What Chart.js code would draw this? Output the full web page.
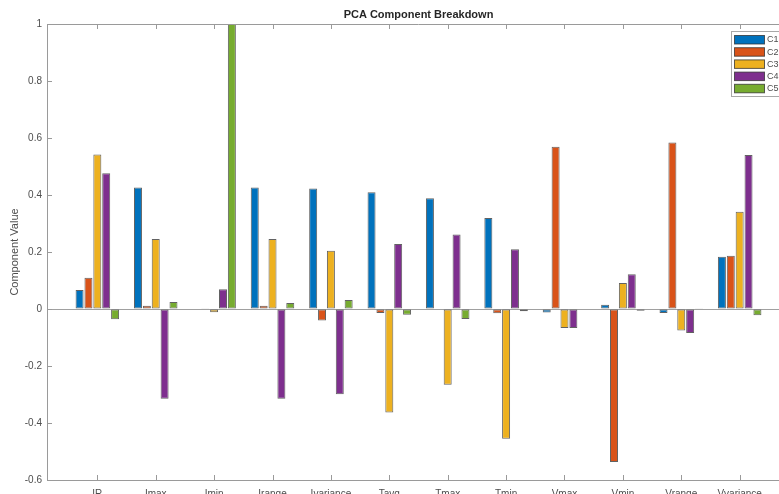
<!DOCTYPE html>
<html>
<head>
<meta charset="utf-8">
<script src="https://cdn.jsdelivr.net/npm/chart.js@4"></script>
<style>
  html, body { margin: 0; padding: 0; background: #fff; overflow: hidden; }
  #wrap { position: absolute; left: 0; top: 0; }
</style>
</head>
<body>
<div id="wrap"><canvas id="pca" width="800" height="510"></canvas></div>
<script>
// categories and component loadings
const categories = ['IR', 'Imax', 'Imin', 'Irange', 'Ivariance', 'Tavg', 'Tmax', 'Tmin', 'Vmax', 'Vmin', 'Vrange', 'Vvariance'];
const seriesNames = ['C1', 'C2', 'C3', 'C4', 'C5'];
const c1 = [0.067, 0.426, -0.002, 0.426, 0.423, 0.410, 0.389, 0.319, -0.012, 0.015, -0.014, 0.183];
const c2 = [0.110, 0.011, 0.003, 0.011, -0.040, -0.014, 0.000, -0.015, 0.569, -0.537, 0.584, 0.187];
const c3 = [0.542, 0.246, -0.011, 0.246, 0.204, -0.363, -0.266, -0.455, -0.067, 0.091, -0.075, 0.341];
const c4 = [0.476, -0.315, 0.069, -0.315, -0.299, 0.228, 0.261, 0.210, -0.067, 0.122, -0.084, 0.540];
const c5 = [-0.036, 0.025, 1.000, 0.021, 0.032, -0.020, -0.035, -0.008, 0.000, -0.006, 0.003, -0.022];
const yTicks = [-0.6, -0.4, -0.2, 0, 0.2, 0.4, 0.6, 0.8, 1];

const colors = ['#0072BD', '#D95319', '#EDB120', '#7E2F8E', '#77AC30'];
const axisColor = '#9a9a9a';
const textColor = '#4d4d4d';
const FONT = '"Liberation Sans", Arial, Helvetica, sans-serif';

const allSeries = [c1, c2, c3, c4, c5];
const datasets = allSeries.map((vals, k) => ({
    label: seriesNames[k],
    data: vals.map((v, i) => ({ x: i + 1, y: v })),
    backgroundColor: colors[k],
    borderColor: 'rgba(45,45,45,0.75)',
    borderWidth: 1,
    borderSkipped: false,
    categoryPercentage: 0.76,
    barPercentage: 0.9
}));

// title, frame, inward ticks and legend in MATLAB style
const matlabDecor = {
    id: 'matlabDecor',
    afterDraw(chart) {
        const ctx = chart.ctx;
        const a = chart.chartArea;
        const xs = chart.scales.x;
        const ys = chart.scales.y;
        ctx.save();

        // top and right frame lines
        ctx.strokeStyle = axisColor;
        ctx.lineWidth = 1;
        ctx.beginPath();
        ctx.moveTo(a.left, a.top + 0.5);
        ctx.lineTo(a.right, a.top + 0.5);
        ctx.moveTo(a.right - 0.5, a.top);
        ctx.lineTo(a.right - 0.5, a.bottom);
        ctx.stroke();

        // ticks pointing inward
        const tl = 5;
        ctx.beginPath();
        xs.ticks.forEach(t => {
            const px = Math.round(xs.getPixelForValue(t.value)) + 0.5;
            ctx.moveTo(px, a.bottom);
            ctx.lineTo(px, a.bottom - tl);
            ctx.moveTo(px, a.top);
            ctx.lineTo(px, a.top + tl);
        });
        ys.ticks.forEach(t => {
            const py = Math.round(ys.getPixelForValue(t.value)) + 0.5;
            ctx.moveTo(a.left, py);
            ctx.lineTo(a.left + tl, py);
            ctx.moveTo(a.right, py);
            ctx.lineTo(a.right - tl, py);
        });
        ctx.stroke();

        // title
        ctx.fillStyle = '#262626';
        ctx.font = 'bold 11px ' + FONT;
        ctx.textAlign = 'center';
        ctx.textBaseline = 'middle';
        ctx.fillText('PCA Component Breakdown', (a.left + a.right) / 2, 15);

        // legend box
        const bx = 731.5, by = 31.5, bw = 52, bh = 65;
        ctx.fillStyle = '#fff';
        ctx.fillRect(bx, by, bw, bh);
        ctx.strokeStyle = '#a8a8a8';
        ctx.strokeRect(bx, by, bw, bh);
        ctx.font = '9px ' + FONT;
        ctx.textAlign = 'left';
        chart.data.datasets.forEach((ds, k) => {
            const sy = 35.5 + k * 12.2;
            ctx.fillStyle = ds.backgroundColor;
            ctx.fillRect(734.5, sy, 30, 8.5);
            ctx.strokeStyle = 'rgba(45,45,45,0.75)';
            ctx.strokeRect(734.5, sy, 30, 8.5);
            ctx.fillStyle = textColor;
            ctx.fillText(ds.label, 767, sy + 4.5);
        });
        ctx.restore();
    }
};

const chart = new Chart(document.getElementById('pca'), {
    type: 'bar',
    data: { datasets },
    options: {
        responsive: false,
        animation: false,
        devicePixelRatio: 1,
        layout: { padding: { left: 0, top: 24, right: 10, bottom: 0 } },
        plugins: {
            legend: { display: false },
            title: { display: false },
            tooltip: { enabled: false }
        },
        scales: {
            x: {
                type: 'linear',
                offset: false,
                min: 0.138,
                max: 12.862,
                afterBuildTicks: s => { s.ticks = categories.map((c, i) => ({ value: i + 1 })); },
                afterFit: s => { s.height = 30; },
                grid: { display: false, drawTicks: false, offset: false },
                border: { display: true, color: axisColor },
                ticks: {
                    padding: 8,
                    autoSkip: false,
                    maxRotation: 0,
                    color: textColor,
                    font: { family: FONT, size: 10 },
                    callback: v => categories[Math.round(v) - 1]
                }
            },
            y: {
                min: -0.6,
                max: 1,
                afterBuildTicks: s => { s.ticks = yTicks.map(v => ({ value: v })); },
                afterFit: s => { s.width = 47; },
                grid: {
                    drawTicks: false,
                    color: c => (c.tick && c.tick.value === 0 ? '#a0a0a0' : 'rgba(0,0,0,0)')
                },
                border: { display: true, color: axisColor },
                ticks: {
                    padding: 5,
                    color: textColor,
                    font: { family: FONT, size: 10 },
                    callback: v => String(+v.toFixed(1))
                },
                title: {
                    display: true,
                    text: 'Component Value',
                    color: textColor,
                    font: { family: FONT, size: 11 },
                    padding: { top: 8, bottom: 0 }
                }
            }
        }
    },
    plugins: [matlabDecor]
});
</script>
</body>
</html>
